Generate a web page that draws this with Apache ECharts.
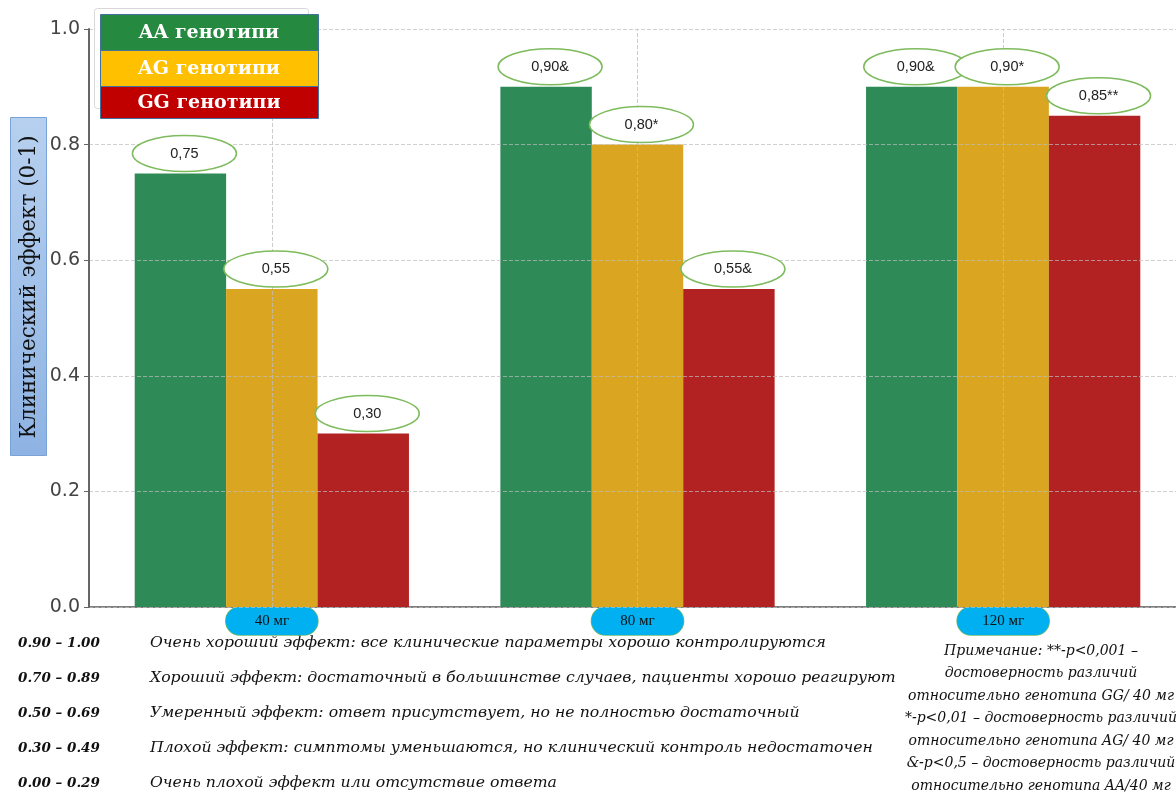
<!DOCTYPE html>
<html>
<head>
<meta charset="utf-8">
<script src="https://cdn.jsdelivr.net/npm/echarts@6/dist/echarts.min.js"></script>
<style>
  html, body { margin: 0; padding: 0; background: #fff; overflow: hidden; }
  #chart { width: 1186px; height: 792px; }
</style>
</head>
<body>
<div id="chart"></div>
<script>
// данные
const categories = ['40 мг', '80 мг', '120 мг'];
const seriesNames = ['AA генотипи', 'AG генотипи', 'GG генотипи'];
const aaValues = [0.75, 0.90, 0.90];
const agValues = [0.55, 0.80, 0.90];
const ggValues = [0.30, 0.55, 0.85];
const aaMarks = ['', '&', '&'];
const agMarks = ['', '*', '*'];
const ggMarks = ['', '&', '**'];
const yTicks = [0, 0.2, 0.4, 0.6, 0.8, 1.0];
const yName = 'Клинический эффект (0-1)';

const scaleRanges = ['0.90 – 1.00', '0.70 – 0.89', '0.50 – 0.69', '0.30 – 0.49', '0.00 – 0.29'];
const scaleTexts = [
    'Очень хороший эффект: все клинические параметры хорошо контролируются',
    'Хороший эффект: достаточный в большинстве случаев, пациенты хорошо реагируют',
    'Умеренный эффект: ответ присутствует, но не полностью достаточный',
    'Плохой эффект: симптомы уменьшаются, но клинический контроль недостаточен',
    'Очень плохой эффект или отсутствие ответа',
];
const noteLines = [
    'Примечание: **-p<0,001 –',
    'достоверность различий',
    'относительно генотипа GG/ 40 мг',
    '*-p<0,01 – достоверность различий',
    'относительно генотипа AG/ 40 мг',
    '&-p<0,5 – достоверность различий',
    'относительно генотипа AA/40 мг',
];

const barColors = ['#2e8b57', '#daa520', '#b22222'];
const legendColors = ['#25893f', '#ffc000', '#c00000'];
const allValues = [aaValues, agValues, ggValues];
const allMarks = [aaMarks, agMarks, ggMarks];

const fmt = (v) => v.toFixed(2).replace('.', ',');

// овальные подписи над столбцами
const ovalSeries = (k) => ({
    type: 'custom',
    name: seriesNames[k] + ' label',
    z: 5,
    silent: true,
    data: categories.map((c, i) => [i, allValues[k][i]]),
    renderItem: (params, api) => {
        const band = api.size([1, 0])[0];
        const barW = band * 0.75 / 3;
        const p = api.coord([api.value(0), api.value(1)]);
        const cx = p[0] + (k - 1) * barW + 4;
        const cy = p[1] - 20;
        const rx = 52, ry = 18;
        const path = 'M' + (cx - rx) + ',' + cy +
            ' A' + rx + ',' + ry + ' 0 1 0 ' + (cx + rx) + ',' + cy +
            ' A' + rx + ',' + ry + ' 0 1 0 ' + (cx - rx) + ',' + cy + ' Z';
        return {
            type: 'group',
            children: [
                {
                    type: 'path',
                    shape: { pathData: path },
                    style: { fill: '#fff', stroke: '#7dbb5c', lineWidth: 1.5 },
                },
                {
                    type: 'text',
                    x: cx,
                    y: cy,
                    style: {
                        text: fmt(allValues[k][params.dataIndex]) + allMarks[k][params.dataIndex],
                        fill: '#222',
                        font: '14.5px "Liberation Sans", Arial, sans-serif',
                        align: 'center',
                        verticalAlign: 'middle',
                    },
                },
            ],
        };
    },
});

const myChart = echarts.init(document.getElementById('chart'));

const graphics = [];
// подпись оси Y в голубой рамке
graphics.push({
    type: 'rect', left: 10, top: 117, shape: { width: 36, height: 338 },
    style: {
        fill: new echarts.graphic.LinearGradient(0, 0, 0, 1, [
            { offset: 0, color: '#b7d0ef' },
            { offset: 1, color: '#8eb3e3' },
        ]),
        stroke: '#79a3d6', lineWidth: 1,
    },
    z: 10,
});
graphics.push({
    type: 'text', x: 29, y: 287, rotation: Math.PI / 2,
    style: {
        text: yName, fill: '#111', font: '21.5px "DejaVu Serif", serif',
        align: 'center', verticalAlign: 'middle',
    },
    z: 11,
});
// рамка легенды
graphics.push({
    type: 'rect', left: 94, top: 8, shape: { width: 214, height: 100, r: 3 },
    style: { fill: '#fff', stroke: '#d8d8d8', lineWidth: 1 }, z: 10,
});
const legendRows = [[14, 36], [50, 36], [86, 32]];
seriesNames.forEach((n, i) => {
    graphics.push({
        type: 'rect', left: 100, top: legendRows[i][0],
        shape: { width: 218, height: legendRows[i][1] },
        style: { fill: legendColors[i], stroke: '#41719c', lineWidth: 1 }, z: 11,
    });
    graphics.push({
        type: 'text', x: 209, y: legendRows[i][0] + legendRows[i][1] / 2 + 1,
        style: {
            text: n, fill: '#fff', font: 'bold 19px "DejaVu Serif", serif',
            align: 'center', verticalAlign: 'middle',
        }, z: 12,
    });
});
// шкала эффекта
scaleRanges.forEach((r, i) => {
    const y = 643 + i * 35;
    graphics.push({
        type: 'text', x: 18, y: y,
        style: { text: r, fill: '#111', font: 'italic bold 13.5px "DejaVu Serif", serif', verticalAlign: 'middle' },
    });
    graphics.push({
        type: 'text', x: 150, y: y,
        style: { text: scaleTexts[i], fill: '#111', font: 'italic 15.7px "DejaVu Serif", serif', verticalAlign: 'middle' },
    });
});
// примечание
graphics.push({
    type: 'text', x: 1041, y: 640,
    style: {
        text: noteLines.join('\n'), fill: '#111', font: 'italic 14px "DejaVu Serif", serif',
        align: 'center', verticalAlign: 'top', lineHeight: 22.5,
    },
});

const option = {
    animation: false,
    backgroundColor: '#fff',
    grid: { left: 89, right: 0, top: 29, bottom: 185, containLabel: false },
    xAxis: {
        type: 'category',
        data: categories,
        axisLine: { lineStyle: { color: '#555', width: 1.5 } },
        axisTick: { alignWithLabel: true, length: 5, lineStyle: { color: '#555' } },
        axisLabel: {
            margin: 0,
            color: '#111',
            fontFamily: '"Liberation Serif", "DejaVu Serif", serif',
            fontSize: 15,
            backgroundColor: '#00b0f0',
            borderColor: '#6fb86a',
            borderWidth: 0.8,
            borderRadius: 14,
            width: 92,
            height: 18,
            lineHeight: 18,
            align: 'center',
            padding: [5, 0, 5, 0],
        },
        splitLine: { show: false },
    },
    yAxis: {
        type: 'value',
        min: 0,
        max: 1.0,
        interval: 0.2,
        z: 3,
        axisLine: { show: true, lineStyle: { color: '#666', width: 2 } },
        axisTick: { show: true, inside: false, length: 5, lineStyle: { color: '#666' } },
        axisLabel: {
            color: '#444', fontSize: 19, fontFamily: '"DejaVu Sans", sans-serif', margin: 9,
            formatter: (v) => yTicks.indexOf(Math.round(v * 10) / 10) >= 0 ? v.toFixed(1) : '',
        },
        splitLine: { lineStyle: { type: 'dashed', color: 'rgba(190,190,190,0.7)', width: 1 } },
    },
    series: [
        ...seriesNames.map((n, k) => ({
            type: 'bar',
            name: n,
            data: allValues[k],
            barGap: '0%',
            barCategoryGap: '25%',
            itemStyle: { color: barColors[k] },
            markLine: k === 1 ? {
                silent: true,
                symbol: 'none',
                label: { show: false },
                lineStyle: { type: 'dashed', color: 'rgba(190,190,190,0.8)', width: 1 },
                data: categories.map((c) => ({ xAxis: c })),
            } : undefined,
        })),
        ovalSeries(0),
        ovalSeries(1),
        ovalSeries(2),
    ],
    graphic: graphics,
};

myChart.setOption(option);
window.addEventListener('resize', () => {
    myChart.resize();
});
</script>
</body>
</html>
